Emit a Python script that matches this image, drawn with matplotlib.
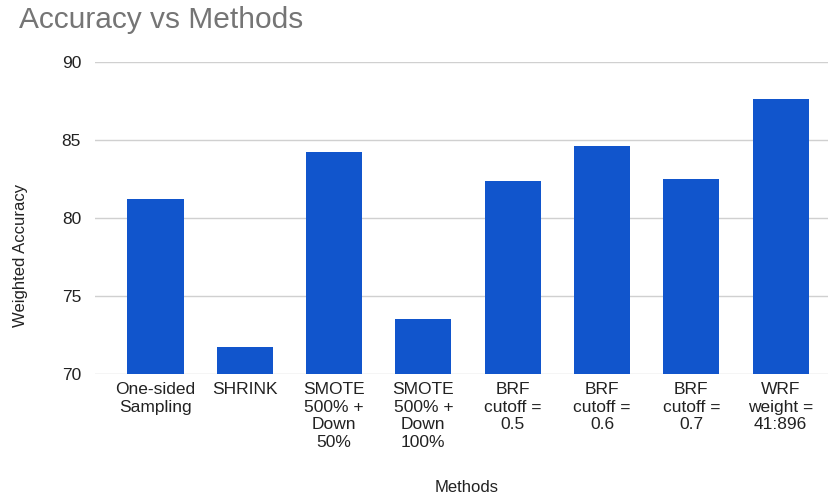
import matplotlib.pyplot as plt

plt.rcParams['font.family'] = ['Liberation Sans', 'DejaVu Sans']

methods = ['One-sided\nSampling', 'SHRINK', 'SMOTE\n500% +\nDown\n50%', 'SMOTE\n500% +\nDown\n100%',
           'BRF\ncutoff =\n0.5', 'BRF\ncutoff =\n0.6', 'BRF\ncutoff =\n0.7', 'WRF\nweight =\n41:896']
accuracy = [81.2, 71.7, 84.2, 73.5, 82.4, 84.6, 82.5, 87.6]
yticks = [70, 75, 80, 85, 90]

fig = plt.figure(figsize=(8.29, 4.97), dpi=100)
ax = fig.add_axes([0.1146, 0.2475, 0.8842, 0.6278])

x = range(len(methods))
ax.bar(x, accuracy, width=0.63, color='#1155cc', zorder=3)

ax.set_ylim(70, 90)
ax.set_xlim(-0.676, 7.53)
ax.set_yticks(yticks)
ax.set_xticks(list(x))
ax.set_xticklabels(methods, fontsize=12.5, color='#222222', linespacing=1.2)
ax.tick_params(axis='y', labelsize=12.5, labelcolor='#222222', length=0, pad=10)
ax.tick_params(axis='x', length=0, pad=6)
ax.grid(axis='y', color='#d0d0d0', linewidth=1, zorder=0)
for s in ax.spines.values():
    s.set_visible(False)

# axis titles placed in figure coordinates
fig.text(0.025, 0.487, 'Weighted Accuracy', fontsize=12, color='#222222',
         rotation=90, ha='center', va='center')
fig.text(0.563, 0.02, 'Methods', fontsize=12, color='#222222', ha='center', va='center')
fig.text(0.023, 0.96, 'Accuracy vs Methods', fontsize=21.5, color='#757575', va='center', ha='left')

plt.savefig('out.png', dpi=100)
